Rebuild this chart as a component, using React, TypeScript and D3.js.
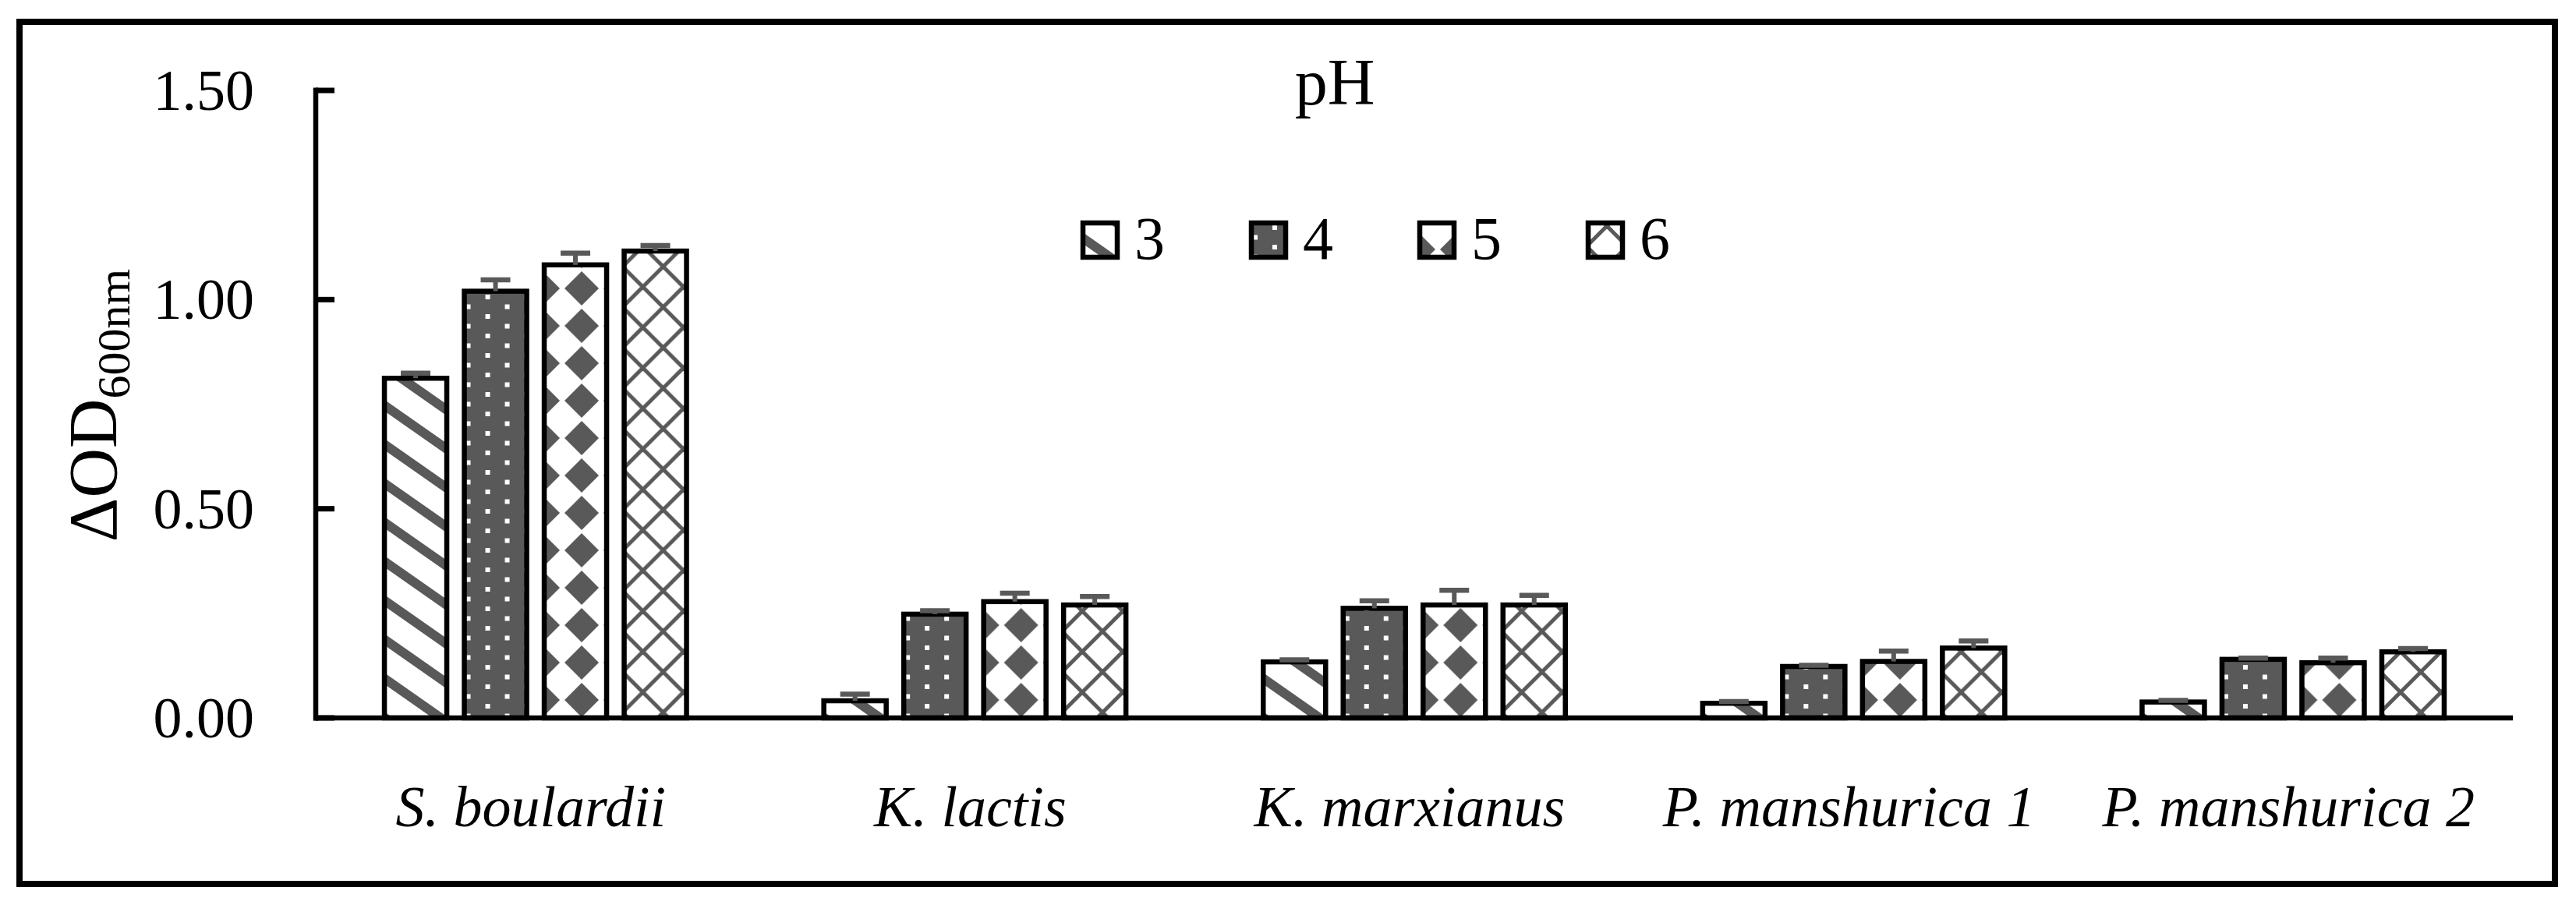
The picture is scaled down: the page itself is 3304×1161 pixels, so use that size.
import React, { useEffect, useRef } from 'react';
import * as d3 from 'd3';

// Yeast strains on the x axis
const categories = ['S. boulardii', 'K. lactis', 'K. marxianus', 'P. manshurica 1', 'P. manshurica 2'];
// pH levels (series)
const phLevels = ['3', '4', '5', '6'];

// ΔOD600nm means per pH, one value per strain
const ph3 = [0.812, 0.041, 0.134, 0.035, 0.038];
const ph4 = [1.02, 0.248, 0.262, 0.123, 0.14];
const ph5 = [1.083, 0.278, 0.27, 0.135, 0.132];
const ph6 = [1.116, 0.27, 0.27, 0.167, 0.158];

// standard deviations (plus side only)
const err3 = [0.012, 0.016, 0.005, 0.004, 0.004];
const err4 = [0.027, 0.008, 0.018, 0.003, 0.003];
const err5 = [0.028, 0.02, 0.035, 0.025, 0.011];
const err6 = [0.013, 0.02, 0.023, 0.017, 0.008];

const yTicks = [0, 0.5, 1.0, 1.5];

const W = 3304;
const H = 1161;
const GREY = '#595959';
const FONT = '"Liberation Serif", "Times New Roman", serif';

const App: React.FC = () => {
  const svgRef = useRef<SVGSVGElement>(null);

  useEffect(() => {
    if (!svgRef.current) return;
    const svg = d3.select(svgRef.current);
    svg.selectAll('*').remove();

    const values = [ph3, ph4, ph5, ph6];
    const errors = [err3, err4, err5, err6];

    const x0 = d3.scaleBand<string>().domain(categories).range([405, 3223]);
    const x1 = d3.scaleBand<string>().domain(phLevels).range([-205, 205]);
    const y = d3.scaleLinear().domain([0, 1.5]).range([921, 116]);
    const barW = 80;

    // ---- fill patterns (Excel-like) ----
    const defs = svg.append('defs');

    const p3 = defs.append('pattern').attr('id', 'pat-3')
      .attr('patternUnits', 'userSpaceOnUse')
      .attr('width', 60).attr('height', 41)
      .attr('patternTransform', 'rotate(35)');
    p3.append('rect').attr('width', 60).attr('height', 41).attr('fill', '#fff');
    p3.append('rect').attr('y', 10).attr('width', 60).attr('height', 12).attr('fill', GREY);

    const p4 = defs.append('pattern').attr('id', 'pat-4')
      .attr('patternUnits', 'userSpaceOnUse')
      .attr('width', 50).attr('height', 25);
    p4.append('rect').attr('width', 50).attr('height', 25).attr('fill', GREY);
    p4.append('rect').attr('x', 27).attr('y', 3).attr('width', 6).attr('height', 6).attr('fill', '#fff');
    p4.append('rect').attr('x', 2).attr('y', 15.5).attr('width', 6).attr('height', 6).attr('fill', '#fff');

    const p5 = defs.append('pattern').attr('id', 'pat-5')
      .attr('patternUnits', 'userSpaceOnUse')
      .attr('x', -27).attr('y', 10)
      .attr('width', 50).attr('height', 48);
    p5.append('rect').attr('width', 50).attr('height', 48).attr('fill', '#fff');
    p5.append('polygon').attr('points', '25,2 47,24 25,46 3,24').attr('fill', GREY);

    const p6 = defs.append('pattern').attr('id', 'pat-6')
      .attr('patternUnits', 'userSpaceOnUse')
      .attr('x', 24).attr('y', 4)
      .attr('width', 52).attr('height', 52);
    p6.append('rect').attr('width', 52).attr('height', 52).attr('fill', '#fff');
    [[0, 0, 52, 52], [-52, 0, 0, 52], [52, 0, 104, 52], [52, 0, 0, 52], [0, 0, -52, 52], [104, 0, 52, 52]]
      .forEach(([a, b, c, d]) => {
        p6.append('line').attr('x1', a).attr('y1', b).attr('x2', c).attr('y2', d)
          .attr('stroke', GREY).attr('stroke-width', 5);
      });

    // ---- outer frame ----
    svg.append('rect')
      .attr('x', 25).attr('y', 28).attr('width', 3252).attr('height', 1106)
      .attr('fill', 'none').attr('stroke', '#000').attr('stroke-width', 8);

    // ---- bars ----
    const plot = svg.append('g');
    categories.forEach((cat, ci) => {
      phLevels.forEach((ph, si) => {
        const v = values[si][ci];
        const cx = (x0(cat) as number) + x0.bandwidth() / 2 + (x1(ph) as number) + x1.bandwidth() / 2;
        const left = cx - barW / 2;
        plot.append('g').attr('transform', `translate(${left},0)`)
          .append('rect')
          .attr('x', 0).attr('y', y(v))
          .attr('width', barW).attr('height', y(0) - y(v))
          .attr('fill', `url(#pat-${ph})`)
          .attr('stroke', '#000').attr('stroke-width', 6.5);
      });
    });

    // ---- error bars ----
    categories.forEach((cat, ci) => {
      phLevels.forEach((ph, si) => {
        const v = values[si][ci];
        const e = errors[si][ci];
        const cx = (x0(cat) as number) + x0.bandwidth() / 2 + (x1(ph) as number) + x1.bandwidth() / 2;
        plot.append('line')
          .attr('x1', cx).attr('x2', cx).attr('y1', y(v)).attr('y2', y(v + e))
          .attr('stroke', GREY).attr('stroke-width', 6);
        plot.append('line')
          .attr('x1', cx - 19).attr('x2', cx + 19).attr('y1', y(v + e)).attr('y2', y(v + e))
          .attr('stroke', GREY).attr('stroke-width', 6.5);
      });
    });

    // ---- axes ----
    const axisG = svg.append('g');
    axisG.append('line')
      .attr('x1', 405).attr('x2', 405).attr('y1', y(1.5) - 3.5).attr('y2', y(0) + 3.5)
      .attr('stroke', '#000').attr('stroke-width', 6.5);
    axisG.append('line')
      .attr('x1', 402).attr('x2', 3223).attr('y1', y(0)).attr('y2', y(0))
      .attr('stroke', '#000').attr('stroke-width', 6.5);

    yTicks.forEach(t => {
      axisG.append('line')
        .attr('x1', 405).attr('x2', 429).attr('y1', y(t)).attr('y2', y(t))
        .attr('stroke', '#000').attr('stroke-width', 7);
      axisG.append('text')
        .attr('x', 326).attr('y', y(t))
        .attr('dy', '0.34em')
        .attr('text-anchor', 'end')
        .attr('font-family', FONT).attr('font-size', 74)
        .text(d3.format('.2f')(t));
    });

    categories.forEach(cat => {
      axisG.append('text')
        .attr('x', (x0(cat) as number) + x0.bandwidth() / 2 - 6)
        .attr('y', 1060)
        .attr('text-anchor', 'middle')
        .attr('font-family', FONT).attr('font-style', 'italic').attr('font-size', 74)
        .text(cat);
    });

    // y axis title
    const yt = svg.append('text')
      .attr('transform', 'translate(149,520) rotate(-90)')
      .attr('text-anchor', 'middle')
      .attr('font-family', FONT).attr('font-size', 88);
    yt.append('tspan').text('ΔOD');
    yt.append('tspan').attr('dy', 17).attr('font-size', 60).text('600nm');

    // chart title
    svg.append('text')
      .attr('x', 1712).attr('y', 134)
      .attr('text-anchor', 'middle')
      .attr('font-family', FONT).attr('font-size', 84)
      .text('pH');

    // ---- legend ----
    const legend = svg.append('g');
    phLevels.forEach((ph, i) => {
      const lx = 1389 + i * 216;
      legend.append('g').attr('transform', `translate(${lx},286)`)
        .append('rect')
        .attr('width', 44).attr('height', 44)
        .attr('fill', `url(#pat-${ph})`)
        .attr('stroke', '#000').attr('stroke-width', 6.5);
      legend.append('text')
        .attr('x', lx + 66).attr('y', 332)
        .attr('font-family', FONT).attr('font-size', 78)
        .text(ph);
    });
  }, []);

  return (
    <svg
      ref={svgRef}
      width={W}
      height={H}
      style={{ position: 'absolute', left: 0, top: 0, background: '#fff' }}
    />
  );
};

export default App;
